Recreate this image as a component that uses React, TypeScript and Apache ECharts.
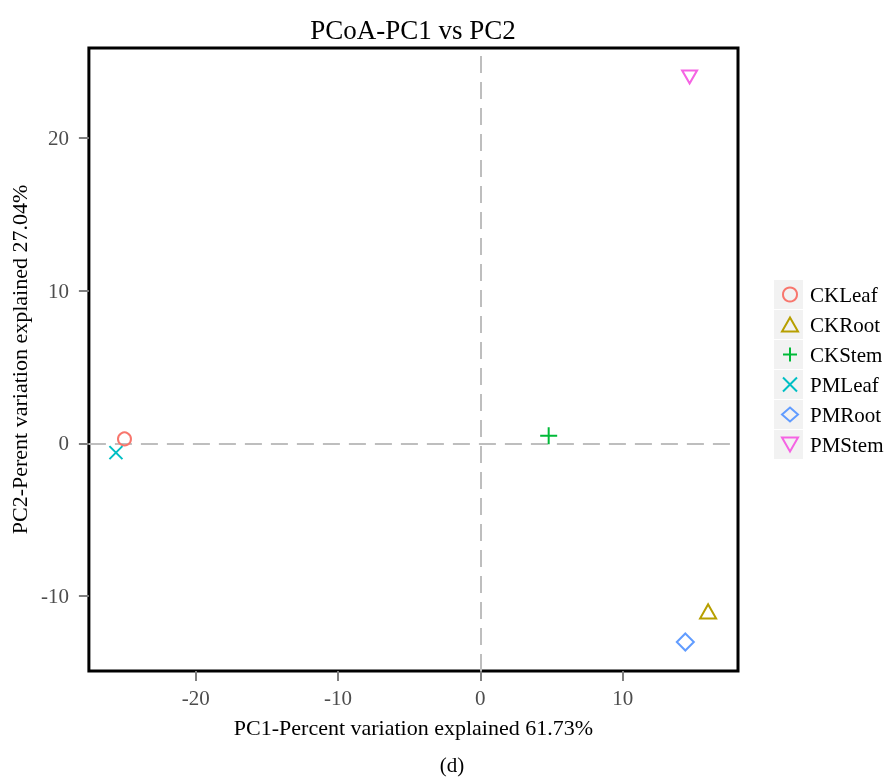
import React, { useEffect, useRef } from "react";
import * as echarts from "echarts";

// ---- data ----
const sampleNames = ["CKLeaf", "CKRoot", "CKStem", "PMLeaf", "PMRoot", "PMStem"];
const pc1Values = [-25.0, 16.0, 4.8, -25.6, 14.4, 14.7];
const pc2Values = [0.3, -11.0, 0.5, -0.6, -13.0, 24.0];
const xTickValues = [-20, -10, 0, 10];
const yTickValues = [-10, 0, 10, 20];
const titleText = "PCoA-PC1 vs PC2";
const xAxisTitle = "PC1-Percent variation explained 61.73%";
const yAxisTitle = "PC2-Perent variation explained 27.04%";
const captionText = "(d)";

// ---- styles ----
const sampleColors = ["#F8766D", "#B79F00", "#00BA38", "#00BFC4", "#619CFF", "#F564E3"];
const sampleSymbols = [
  "circle",
  "triangle",
  "path://M5,0L5,10M0,5L10,5",
  "path://M0,0L10,10M10,0L0,10",
  "diamond",
  "path://M0,0L10,0L5,8.66Z",
];
const sampleSymbolSizes: any[] = [13, [16, 14], 17, 13, [17, 17], [15, 13]];

const FONT = "'Liberation Serif', 'Times New Roman', serif";

export default function App() {
  const ref = useRef<HTMLDivElement>(null);
  useEffect(() => {
    if (!ref.current) return;
    const chart = echarts.init(ref.current, undefined, { renderer: "svg" });

    const series: any[] = sampleNames.map((name, i) => ({
      name,
      type: "scatter",
      data: [[pc1Values[i], pc2Values[i]]],
      symbol: sampleSymbols[i],
      symbolSize: sampleSymbolSizes[i],
      itemStyle: {
        color: "rgba(0,0,0,0)",
        borderColor: sampleColors[i],
        borderWidth: 2,
        opacity: 1,
      },
      emphasis: { disabled: true },
      z: 3,
      ...(i === 0
        ? {
            markLine: {
              silent: true,
              symbol: "none",
              label: { show: false },
              lineStyle: { color: "#BEBEBE", width: 2, type: [17, 9] },
              z: 2,
              data: [{ xAxis: 0 }, { yAxis: 0 }],
            },
          }
        : {}),
    }));

    const legendBoxes = sampleNames.map((_, i) => ({
      type: "rect",
      shape: { x: 774, y: 280 + i * 30, width: 29, height: 29 },
      style: { fill: "#F2F2F2" },
      z: -1,
    }));

    const axisCommon = {
      type: "value",
      splitLine: { show: false },
      axisLine: { show: false, onZero: false },
    };

    chart.setOption({
      animation: false,
      textStyle: { fontFamily: FONT },
      grid: {
        left: 88,
        right: 149,
        top: 48,
        bottom: 106,
        show: true,
        borderColor: "#000",
        borderWidth: 3,
        backgroundColor: "transparent",
        containLabel: false,
      },
      xAxis: {
        ...axisCommon,
        min: -27.5,
        max: 18.1,
        axisTick: {
          show: true,
          length: 10,
          customValues: xTickValues,
          lineStyle: { color: "#7F7F7F", width: 2 },
        },
        axisLabel: {
          color: "#4D4D4D",
          fontSize: 21,
          fontFamily: FONT,
          margin: 16,
          customValues: xTickValues,
        },
        name: xAxisTitle,
        nameLocation: "middle",
        nameGap: 45,
        nameTextStyle: { color: "#000", fontSize: 22, fontFamily: FONT },
      },
      yAxis: {
        ...axisCommon,
        min: -14.9,
        max: 25.9,
        axisTick: {
          show: true,
          length: 10,
          customValues: yTickValues,
          lineStyle: { color: "#7F7F7F", width: 2 },
        },
        axisLabel: {
          color: "#4D4D4D",
          fontSize: 21,
          fontFamily: FONT,
          margin: 20,
          customValues: yTickValues,
        },
        name: yAxisTitle,
        nameLocation: "middle",
        nameGap: 56,
        nameTextStyle: { color: "#000", fontSize: 22, fontFamily: FONT },
      },
      legend: {
        orient: "vertical",
        left: 781,
        top: 284,
        padding: 0,
        itemWidth: 16,
        itemHeight: 14,
        itemGap: 9,
        symbolKeepAspect: true,
        selectedMode: false,
        textStyle: {
          color: "#000",
          fontSize: 21,
          fontFamily: FONT,
          padding: [0, 0, 0, 7],
        },
        data: sampleNames,
      },
      graphic: [
        ...legendBoxes,
        {
          type: "text",
          x: 413,
          y: 30,
          style: {
            text: titleText,
            fill: "#000",
            font: `27px ${FONT}`,
            textAlign: "center",
            textVerticalAlign: "middle",
          },
        },
        {
          type: "text",
          x: 452,
          y: 765,
          style: {
            text: captionText,
            fill: "#000",
            font: `21px ${FONT}`,
            textAlign: "center",
            textVerticalAlign: "middle",
          },
        },
      ],
      series,
    });

    return () => chart.dispose();
  }, []);

  return (
    <div
      ref={ref}
      style={{ position: "fixed", left: 0, top: 0, width: 887, height: 777 }}
    />
  );
}
